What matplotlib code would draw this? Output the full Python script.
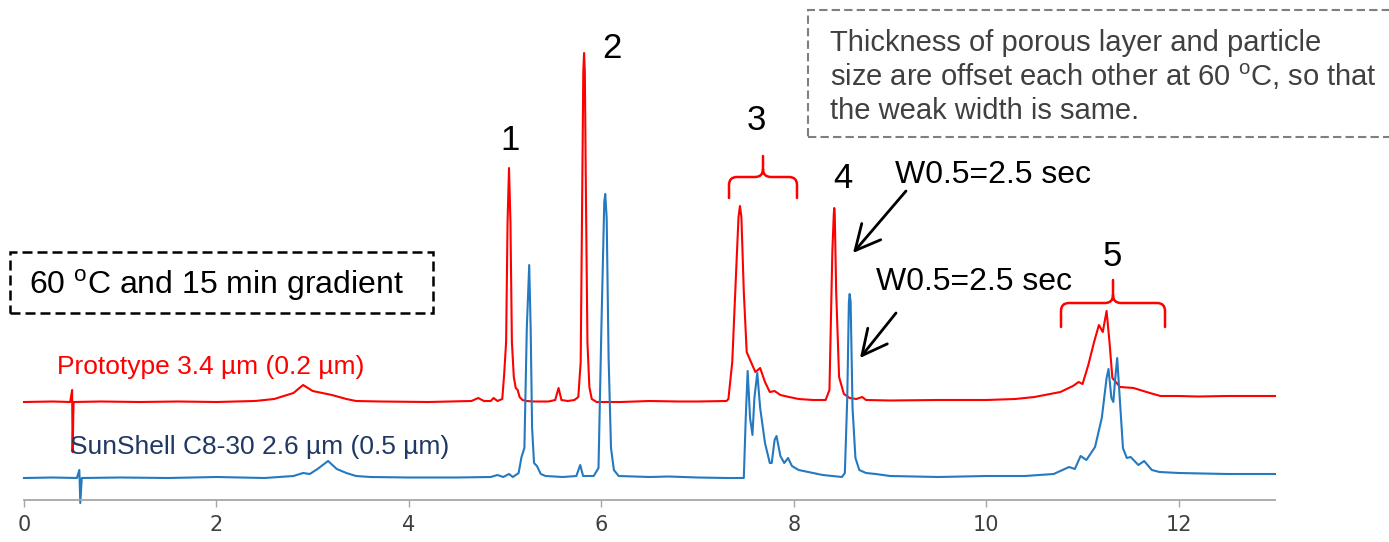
import matplotlib
matplotlib.use('Agg')
import matplotlib.pyplot as plt
from matplotlib.path import Path
from matplotlib.patches import PathPatch, Rectangle

plt.rcParams['font.family'] = ['Liberation Sans', 'DejaVu Sans']
plt.rcParams['mathtext.fontset'] = 'custom'
plt.rcParams['mathtext.rm'] = 'Liberation Sans'

# ---------------- data ----------------
red_time = [0.0, 0.3, 0.48, 0.50, 0.505, 0.515, 0.8, 1.2, 1.6, 2.0, 2.4, 2.6, 2.8, 2.9, 3.0,
            3.2, 3.35, 3.45, 3.7, 4.2, 4.65, 4.72, 4.78, 4.85, 4.88, 4.92, 4.97, 4.99, 5.01,
            5.025, 5.04, 5.055, 5.07, 5.09, 5.11, 5.13, 5.15, 5.18, 5.22, 5.3, 5.45, 5.52,
            5.555, 5.585, 5.65, 5.72, 5.76, 5.785, 5.80, 5.812, 5.82, 5.828, 5.84, 5.855,
            5.875, 5.9, 5.95, 6.2, 6.5, 6.8, 7.0, 7.3, 7.32, 7.36, 7.40, 7.425, 7.44, 7.455,
            7.48, 7.51, 7.55, 7.60, 7.65, 7.70, 7.75, 7.80, 7.86, 7.95, 8.05, 8.2, 8.33,
            8.37, 8.40, 8.415, 8.42, 8.425, 8.44, 8.47, 8.52, 8.58, 8.65, 8.71, 8.75, 9.0,
            9.5, 10.0, 10.3, 10.5, 10.77, 10.9, 10.96, 11.0, 11.06, 11.12, 11.17, 11.21,
            11.25, 11.28, 11.31, 11.39, 11.53, 11.7, 11.81, 12.0, 12.2, 12.5, 13.0]
red_signal = [0, 0.5, 0, 12, -50, 0, 0.5, 0, 0.5, 0, 1, 3, 9, 17, 11,
              7, 3, 1, 0.5, 0, 1, 4, 1, 1, 4, 1, 3, 28, 60,
              180, 234, 180, 60, 25, 14, 12, 5, 2, 1, 0.5, 0.5, 2,
              14, 2, 1, 2, 5, 40, 200, 330, 349, 330, 200, 60,
              15, 3, 0, 0, 1, 0.5, 0.5, 1, 3, 40, 130, 185, 196, 185,
              110, 50, 41, 30, 34, 20, 10, 11, 7, 5, 3, 2, 2,
              12, 150, 188, 194, 188, 110, 25, 8, 4, 3, 5, 2, 1.5,
              2, 2, 3, 5, 10, 16, 20, 18, 37, 60, 77, 70,
              91, 60, 24, 15, 14, 9, 6, 6, 5.5, 6, 6]

blue_time = [0.0, 0.3, 0.55, 0.575, 0.585, 0.6, 1.0, 1.5, 2.0, 2.5, 2.8, 2.9, 2.97, 3.05,
             3.16, 3.25, 3.35, 3.45, 3.6, 4.0, 4.5, 4.85, 4.92, 4.98, 5.04, 5.08, 5.14,
             5.17, 5.20, 5.225, 5.25, 5.265, 5.28, 5.30, 5.33, 5.37, 5.42, 5.6, 5.74, 5.78,
             5.81, 5.92, 5.97, 6.0, 6.03, 6.04, 6.055, 6.075, 6.10, 6.13, 6.18, 6.5, 6.7,
             7.0, 7.3, 7.48, 7.50, 7.52, 7.545, 7.57, 7.59, 7.62, 7.65, 7.70, 7.75, 7.77,
             7.80, 7.82, 7.86, 7.90, 7.94, 7.98, 8.05, 8.2, 8.3, 8.5, 8.53, 8.555, 8.572,
             8.58, 8.59, 8.61, 8.64, 8.68, 8.75, 8.85, 9.0, 9.5, 10.0, 10.4, 10.7, 10.86,
             10.92, 10.98, 11.04, 11.13, 11.2, 11.25, 11.27, 11.3, 11.32, 11.34, 11.36,
             11.38, 11.42, 11.46, 11.5, 11.58, 11.64, 11.72, 11.8, 12.0, 12.5, 13.0]
blue_signal = [0, 0.5, 0, 8, -25, 0, 0.5, 0, 1, 0, 2, 5, 4, 9,
               17, 9, 5, 2, 1, 0.5, 0.5, 1, 3, 1, 4, 1, 5,
               21, 30, 150, 213, 150, 50, 15, 12, 4, 2, 1, 2, 13,
               2, 2, 10, 150, 276, 284, 260, 120, 30, 8, 2, 1, 1.5,
               0.5, 0, 0, 60, 107, 60, 43, 80, 105, 70, 35, 15, 15,
               38, 42, 22, 15, 20, 12, 8, 5, 3, 1, 5, 80, 176,
               184, 176, 70, 20, 8, 5, 4, 2, 1, 2, 2, 4, 11,
               9, 22, 18, 31, 60, 100, 109, 80, 76, 100, 120,
               90, 30, 20, 21, 13, 17, 8, 6, 5, 4, 4]

x_ticks = [0, 2, 4, 6, 8, 10, 12]
peak_labels = ['1', '2', '3', '4', '5']

# ---------------- layout / style ----------------
W, H = 1389, 542
RED_OFFSET = 98
BLUE_OFFSET = 22
RED = '#ff0000'
BLUE = '#2479c0'
NAVY = '#1f3864'


def ff(x, y):
    """pixel (top-left origin) -> figure fraction"""
    return (x / W, 1 - y / H)


fig = plt.figure(figsize=(W / 100, H / 100), dpi=100)
ax = fig.add_axes([24 / W, 42 / H, 1251 / W, 500 / H])
ax.set_xlim(0, 13)
ax.set_ylim(0, 500)

ax.plot(red_time, [v + RED_OFFSET for v in red_signal], color=RED, lw=1.5,
        clip_on=False, solid_joinstyle='round')
ax.plot(blue_time, [v + BLUE_OFFSET for v in blue_signal], color=BLUE, lw=1.5,
        clip_on=False, solid_joinstyle='round')

for s in ['top', 'right', 'left']:
    ax.spines[s].set_visible(False)
ax.spines['bottom'].set_color('#a6a6a6')
ax.spines['bottom'].set_linewidth(1.3)
ax.set_yticks([])
ax.set_xticks(x_ticks)
ax.set_xticklabels([str(t) for t in x_ticks],
                   fontfamily=['Liberation Sans Narrow', 'DejaVu Sans'],
                   fontsize=15, color='#404040')
ax.tick_params(axis='x', direction='out', length=5, width=1, color='#a6a6a6', pad=6)

# peak numbers
num_pos = [(510, 140), (612, 48), (756, 120), (843, 178), (1112, 256)]
for lab, (px, py) in zip(peak_labels, num_pos):
    fig.text(*ff(px, py), lab, fontsize=25, ha='center', va='center', color='black')


# braces
def brace(x0, x1, xc, ybar, yend, ytip, r=8):
    verts = [(x0, yend), (x0, ybar + r), (x0, ybar), (x0 + r, ybar),
             (xc - r, ybar), (xc, ybar), (xc, ybar - r), (xc, ytip),
             (xc, ybar - r), (xc, ybar), (xc + r, ybar),
             (x1 - r, ybar), (x1, ybar), (x1, ybar + r), (x1, yend)]
    codes = [Path.MOVETO, Path.LINETO, Path.CURVE3, Path.CURVE3,
             Path.LINETO, Path.CURVE3, Path.CURVE3, Path.LINETO,
             Path.MOVETO, Path.CURVE3, Path.CURVE3,
             Path.LINETO, Path.CURVE3, Path.CURVE3, Path.LINETO]
    verts = [ff(x, y) for x, y in verts]
    fig.patches.append(PathPatch(Path(verts, codes), transform=fig.transFigure,
                                 fill=False, edgecolor=RED, lw=1.8,
                                 capstyle='round', joinstyle='round'))


brace(729, 797, 763, 177, 198, 156)
brace(1061, 1165, 1113, 303, 327, 280)

# W0.5 labels and arrows
fig.text(*ff(895, 175), 'W0.5=2.5 sec', fontsize=23, ha='left', va='center')
fig.text(*ff(876, 282), 'W0.5=2.5 sec', fontsize=23, ha='left', va='center')
arrow_kw = dict(arrowstyle='->, head_length=0.9, head_width=0.45', lw=2, color='black',
                mutation_scale=20, shrinkA=0, shrinkB=0)
ax.annotate('', xy=ff(853, 253), xytext=ff(906, 191), xycoords='figure fraction',
            textcoords='figure fraction', arrowprops=arrow_kw)
ax.annotate('', xy=ff(860, 358), xytext=ff(896, 313), xycoords='figure fraction',
            textcoords='figure fraction', arrowprops=arrow_kw)

# series labels
fig.text(*ff(57, 367), 'Prototype 3.4 µm (0.2 µm)', fontsize=19, color=RED,
         ha='left', va='center')
fig.text(*ff(70, 447), 'SunShell C8-30 2.6 µm (0.5 µm)', fontsize=19, color=NAVY,
         ha='left', va='center')

# dashed box: condition
fig.patches.append(Rectangle(ff(10, 313), 423 / W, 61 / H, transform=fig.transFigure,
                             fill=False, edgecolor='black', lw=1.8,
                             linestyle=(0, (4, 2))))
fig.text(*ff(216, 285), r'60 $^{\mathrm{o}}$C and 15 min gradient', fontsize=23,
         ha='center', va='center', color='black')

# dashed box: note
fig.patches.append(Rectangle(ff(808, 137), 600 / W, 127 / H, transform=fig.transFigure,
                             fill=False, edgecolor='#7f7f7f', lw=1.5,
                             linestyle=(0, (4, 2))))
note_lines = ['Thickness of porous layer and particle',
              r'size are offset each other at 60 $^{\mathrm{o}}$C, so that',
              'the weak width is same.']
for i, line in enumerate(note_lines):
    fig.text(*ff(830, 43 + 34 * i), line, fontsize=21, color='#404040',
             ha='left', va='center')

fig.savefig('out.png', dpi=100)
